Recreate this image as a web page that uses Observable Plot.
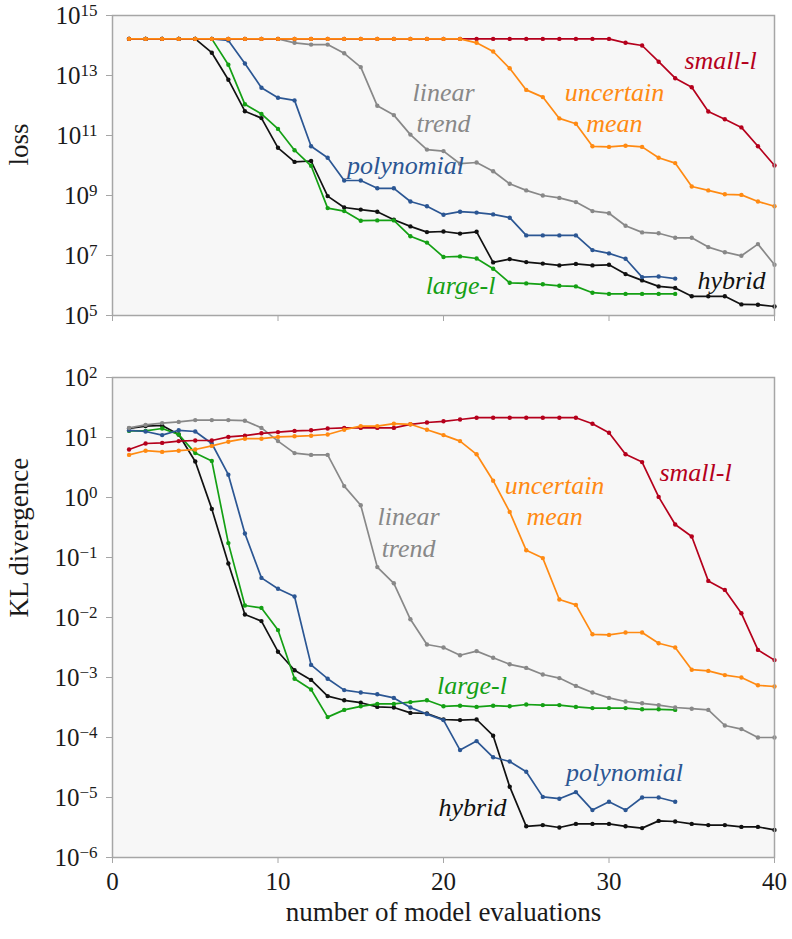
<!DOCTYPE html>
<html>
<head>
<meta charset="utf-8">
<script src="https://cdn.jsdelivr.net/npm/d3@7"></script>
<script src="https://cdn.jsdelivr.net/npm/@observablehq/plot@0.6"></script>
<style>
  body { margin: 0; background: #fff; }
  #chart { width: 792px; }
  #chart svg { display: block; }
  #chart svg, #chart svg text, #chart svg tspan { font-family: "Liberation Serif", "DejaVu Serif", serif !important; }
</style>
</head>
<body>
<div id="chart"></div>
<script>
// Model evaluations 1..40
const evals = d3.range(1, 41);

// Series names and colours (drawing order: last is on top)
const seriesNames  = ["hybrid", "large-l", "polynomial", "linear trend", "small-l", "uncertain mean"];
const seriesColors = ["#111111", "#14a014", "#2b5693", "#888888", "#b5001c", "#ff8a12"];

// log10 of the loss after each evaluation
const hybridLoss = [14.22,14.22,14.22,14.22,14.22,13.76,12.86,11.81,11.58,10.59,10.12,10.15,8.98,8.60,8.53,8.46,8.19,7.97,7.78,7.80,7.73,7.79,6.77,6.88,6.78,6.73,6.67,6.72,6.67,6.69,6.38,6.17,5.97,5.92,5.64,5.64,5.64,5.37,5.36,5.30];
const largeLoss  = [14.22,14.22,14.22,14.22,14.22,14.22,13.36,12.04,11.72,11.22,10.51,9.99,8.58,8.48,8.16,8.17,8.17,7.64,7.43,6.95,6.97,6.90,6.56,6.09,6.07,6.04,5.99,5.97,5.76,5.72,5.72,5.72,5.72,5.72];
const polyLoss   = [14.22,14.22,14.22,14.22,14.22,14.22,14.17,13.40,12.59,12.26,12.17,10.64,10.26,9.50,9.50,9.24,9.24,8.80,8.64,8.36,8.46,8.43,8.37,8.26,7.67,7.67,7.67,7.67,7.18,7.07,6.89,6.28,6.30,6.23];
const linearLoss = [14.22,14.22,14.22,14.22,14.22,14.22,14.22,14.22,14.22,14.22,14.09,14.03,14.03,13.74,13.28,11.99,11.68,11.03,10.53,10.48,10.06,10.10,9.81,9.39,9.17,9.00,8.92,8.78,8.48,8.41,7.99,7.77,7.74,7.59,7.59,7.28,7.11,6.99,7.38,6.69];
const smallLoss  = [14.22,14.22,14.22,14.22,14.22,14.22,14.22,14.22,14.22,14.22,14.22,14.22,14.22,14.22,14.22,14.22,14.22,14.22,14.22,14.22,14.22,14.22,14.22,14.22,14.22,14.22,14.22,14.22,14.22,14.22,14.09,14.00,13.46,12.91,12.61,11.80,11.54,11.27,10.64,10.00];
const meanLoss   = [14.22,14.22,14.22,14.22,14.22,14.22,14.22,14.22,14.22,14.22,14.22,14.22,14.22,14.22,14.22,14.22,14.22,14.22,14.22,14.22,14.22,14.09,13.80,13.24,12.52,12.28,11.57,11.39,10.64,10.62,10.66,10.62,10.26,10.08,9.30,9.17,9.04,9.02,8.80,8.64];

// log10 of the KL divergence after each evaluation
const hybridKL = [1.15,1.19,1.20,1.05,0.60,-0.19,-1.10,-1.95,-2.06,-2.57,-2.88,-3.04,-3.31,-3.38,-3.42,-3.49,-3.50,-3.59,-3.60,-3.70,-3.71,-3.70,-3.97,-4.82,-5.48,-5.46,-5.50,-5.44,-5.44,-5.44,-5.48,-5.51,-5.39,-5.40,-5.44,-5.46,-5.46,-5.49,-5.49,-5.54];
const largeKL  = [1.11,1.11,1.15,1.05,0.74,0.61,-0.76,-1.80,-1.84,-2.21,-3.02,-3.20,-3.66,-3.54,-3.48,-3.44,-3.44,-3.41,-3.38,-3.48,-3.47,-3.49,-3.47,-3.48,-3.45,-3.46,-3.46,-3.49,-3.51,-3.51,-3.51,-3.53,-3.53,-3.54];
const polyKL   = [1.12,1.10,1.04,1.12,1.10,0.90,0.38,-0.60,-1.34,-1.52,-1.65,-2.79,-3.02,-3.21,-3.25,-3.28,-3.34,-3.50,-3.61,-3.71,-4.21,-4.06,-4.33,-4.40,-4.57,-4.99,-5.02,-4.91,-5.21,-5.07,-5.21,-5.00,-5.00,-5.07];
const linearKL = [1.16,1.21,1.24,1.26,1.29,1.29,1.29,1.28,1.16,0.94,0.74,0.71,0.71,0.19,-0.13,-1.16,-1.43,-2.03,-2.45,-2.50,-2.63,-2.56,-2.67,-2.78,-2.84,-2.95,-3.01,-3.14,-3.25,-3.34,-3.40,-3.43,-3.46,-3.50,-3.52,-3.54,-3.80,-3.86,-4.00,-4.00];
const smallKL  = [0.80,0.90,0.91,0.94,0.95,0.95,1.01,1.03,1.07,1.09,1.11,1.12,1.15,1.16,1.16,1.16,1.16,1.22,1.25,1.27,1.30,1.33,1.33,1.33,1.33,1.33,1.33,1.33,1.23,1.08,0.72,0.59,0.01,-0.45,-0.65,-1.39,-1.54,-1.93,-2.54,-2.71];
const meanKL   = [0.71,0.78,0.76,0.78,0.80,0.86,0.93,0.98,0.98,1.01,1.02,1.03,1.05,1.13,1.19,1.19,1.23,1.22,1.13,1.04,0.94,0.72,0.28,-0.24,-0.88,-1.01,-1.70,-1.79,-2.28,-2.29,-2.25,-2.25,-2.43,-2.50,-2.87,-2.89,-2.96,-3.00,-3.13,-3.15];

// Axis ticks
const evalTicks = [0, 10, 20, 30, 40];
const lossTicks = [1e5, 1e7, 1e9, 1e11, 1e13, 1e15];
const klTicks   = [1e-6, 1e-5, 1e-4, 1e-3, 1e-2, 1e-1, 1e0, 1e1, 1e2];

// Inline series labels: series, text, evaluations, log10 value
const lossLabelSeries = ["small-l", "uncertain mean", "linear trend", "polynomial", "large-l", "hybrid"];
const lossLabelText   = ["small-l", "uncertain\nmean", "linear\ntrend", "polynomial", "large-l", "hybrid"];
const lossLabelX      = [36.74, 30.33, 20.0, 17.70, 21.03, 37.40];
const lossLabelY      = [13.57, 11.97, 11.97, 10.07, 6.07, 6.23];

const klLabelSeries = ["small-l", "uncertain mean", "linear trend", "large-l", "polynomial", "hybrid"];
const klLabelText   = ["small-l", "uncertain\nmean", "linear\ntrend", "large-l", "polynomial", "hybrid"];
const klLabelX      = [35.23, 26.71, 17.89, 21.72, 30.94, 21.75];
const klLabelY      = [0.44, -0.03, -0.56, -3.11, -4.56, -5.14];

const lossBySeries = [hybridLoss, largeLoss, polyLoss, linearLoss, smallLoss, meanLoss];
const klBySeries   = [hybridKL, largeKL, polyKL, linearKL, smallKL, meanKL];

function rowsFor(exps, name) {
  return exps.map((e, i) => ({series: name, n: evals[i], value: 10 ** e}));
}
function labelRows(series, text, xs, ys) {
  return series.map((s, i) => ({series: s, text: text[i], n: xs[i], value: 10 ** ys[i]}));
}

const color = {domain: seriesNames, range: seriesColors};
const expFormat = d => `10^${Math.round(Math.log10(d))}`;
const fontFamily = "Liberation Serif, DejaVu Serif, serif";

function seriesMarks(table) {
  return seriesNames.map((name, k) => {
    const rows = rowsFor(table[k], name);
    return [
      Plot.line(rows, {x: "n", y: "value", stroke: "series", strokeWidth: 1.7}),
      Plot.dot(rows, {x: "n", y: "value", fill: "series", r: 2.2, stroke: "none"})
    ];
  });
}

// Turn "10^k" tick labels into 10 with a raised exponent
function superscripts(svg) {
  svg.querySelectorAll("text").forEach(t => {
    const m = /^10\^(-?\d+)$/.exec(t.textContent);
    if (!m) return;
    t.textContent = "10";
    const s = document.createElementNS("http://www.w3.org/2000/svg", "tspan");
    s.setAttribute("dy", "-0.45em");
    s.setAttribute("font-size", "0.68em");
    s.textContent = m[1].replace("-", "\u2212");
    t.appendChild(s);
  });
  return svg;
}

const common = {
  width: 792,
  marginLeft: 112,
  marginRight: 18,
  x: {domain: [0, 40]},
  color,
  style: {fontFamily, fontSize: "25px", color: "#1a1a1a", background: "white", overflow: "visible"}
};

const lossPlot = Plot.plot({
  ...common,
  height: 330,
  marginTop: 15,
  marginBottom: 15,
  y: {type: "log", domain: [1e5, 1e15]},
  marks: [
    Plot.frame({fill: "#f7f7f7", stroke: "none"}),
    Plot.axisY({ticks: lossTicks, tickFormat: expFormat, tickSize: 6, tickPadding: 9, stroke: "#a6a6a6", fill: "#1a1a1a", fontSize: 25, label: null}),
    Plot.axisX({ticks: evalTicks, tickFormat: () => "", tickSize: 6, stroke: "#a6a6a6", label: null}),
    seriesMarks(lossBySeries),
    Plot.frame({stroke: "#a6a6a6", strokeWidth: 1.5}),
    Plot.text(labelRows(lossLabelSeries, lossLabelText, lossLabelX, lossLabelY),
      {x: "n", y: "value", text: "text", fill: "series", fontStyle: "italic", fontSize: 26, lineHeight: 1.22}),
    Plot.text(["loss"], {frameAnchor: "left", dx: -93, rotate: -90, fontSize: 27, fill: "#1a1a1a"})
  ]
});

const klPlot = Plot.plot({
  ...common,
  height: 609,
  marginTop: 47,
  marginBottom: 82,
  y: {type: "log", domain: [1e-6, 1e2]},
  marks: [
    Plot.frame({fill: "#f7f7f7", stroke: "none"}),
    Plot.axisY({ticks: klTicks, tickFormat: expFormat, tickSize: 6, tickPadding: 9, stroke: "#a6a6a6", fill: "#1a1a1a", fontSize: 25, label: null}),
    Plot.axisX({ticks: evalTicks, tickSize: 6, tickPadding: 9, stroke: "#a6a6a6", fill: "#1a1a1a", fontSize: 25, label: null}),
    seriesMarks(klBySeries),
    Plot.frame({stroke: "#a6a6a6", strokeWidth: 1.5}),
    Plot.text(labelRows(klLabelSeries, klLabelText, klLabelX, klLabelY),
      {x: "n", y: "value", text: "text", fill: "series", fontStyle: "italic", fontSize: 26, lineHeight: 1.22}),
    Plot.text(["KL divergence"], {frameAnchor: "left", dx: -93, rotate: -90, fontSize: 27, fill: "#1a1a1a"}),
    Plot.text(["number of model evaluations"], {frameAnchor: "bottom", dy: 63, fontSize: 27, fill: "#1a1a1a"})
  ]
});

const chart = document.getElementById("chart");
chart.appendChild(superscripts(lossPlot));
chart.appendChild(superscripts(klPlot));
</script>
</body>
</html>
